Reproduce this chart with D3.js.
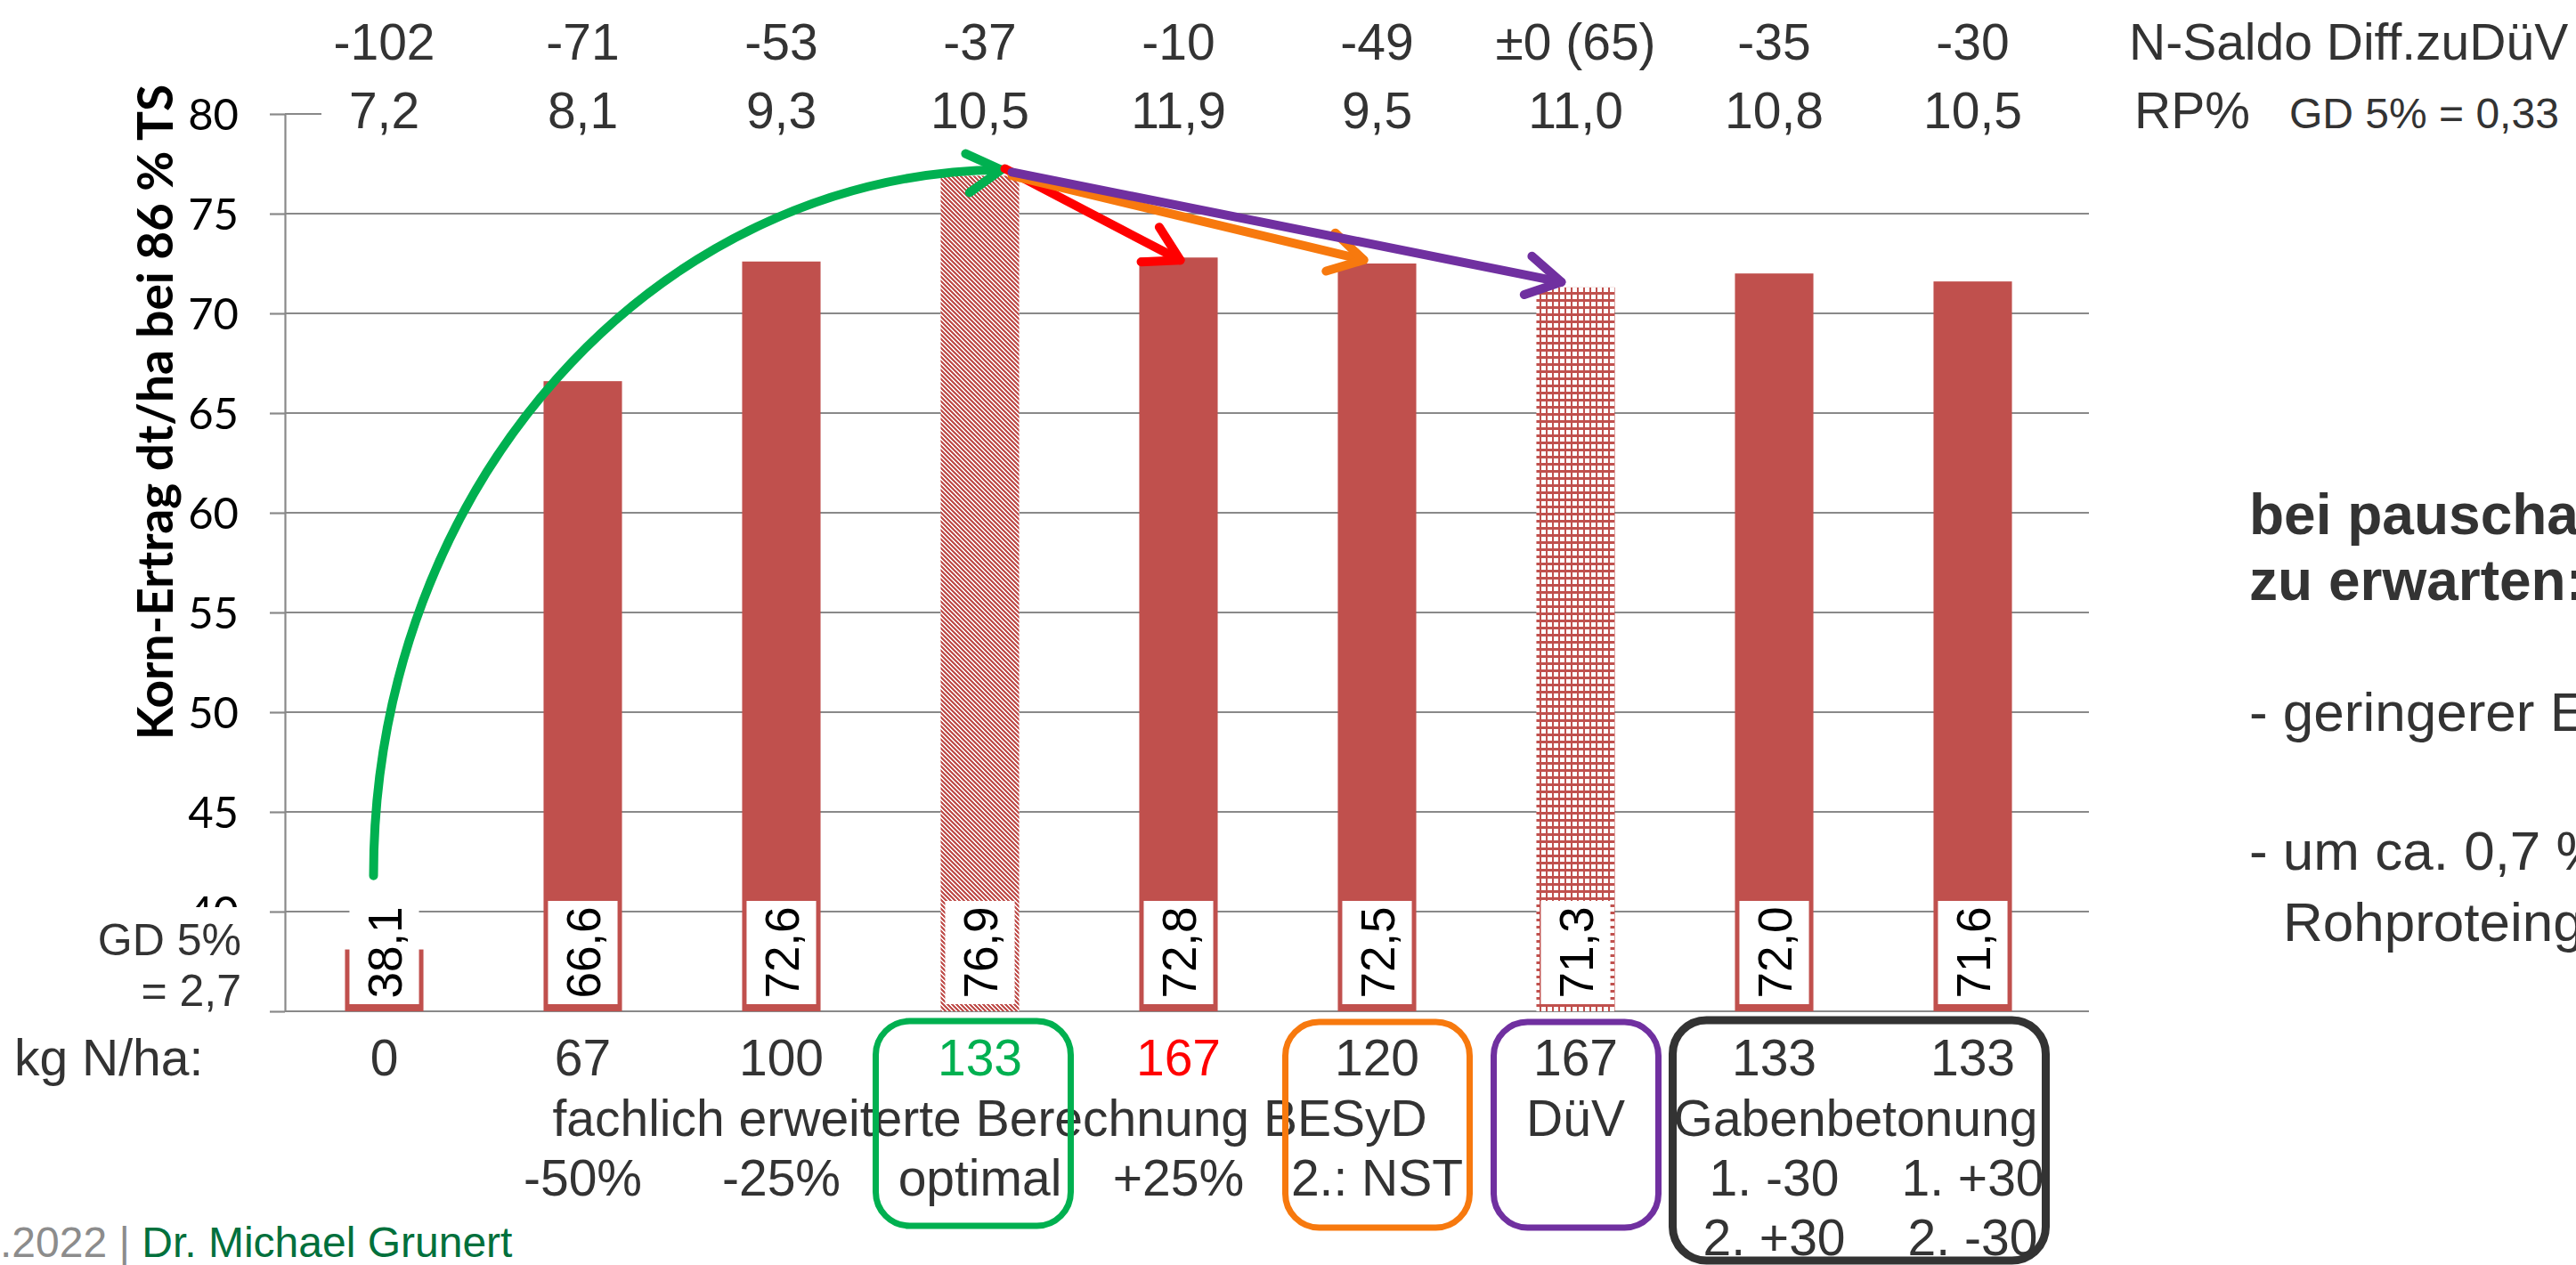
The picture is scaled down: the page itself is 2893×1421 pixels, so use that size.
<!DOCTYPE html>
<html><head><meta charset="utf-8">
<script src="https://cdn.jsdelivr.net/npm/d3@7"></script>
<style>html,body{margin:0;padding:0;background:#fff;overflow:hidden}</style>
</head><body><svg id="chart"></svg>
<script>
// ---------- data ----------
const categories = ["0","67","100","133","167","120","167","133","133"];   // kg N/ha
const yields = [38.1, 66.6, 72.6, 76.9, 72.8, 72.5, 71.3, 72.0, 71.6];     // Korn-Ertrag dt/ha
const nSaldo = ["-102","-71","-53","-37","-10","-49","±0 (65)","-35","-30"];
const rpPercent = ["7,2","8,1","9,3","10,5","11,9","9,5","11,0","10,8","10,5"];
const variantLine1 = ["","-50%","-25%","optimal","+25%","2.: NST","","1. -30","1. +30"];
const variantLine2 = ["","","","","","","","2. +30","2. -30"];
const yTickValues = [35,40,45,50,55,60,65,70,75,80];

// ---------- setup ----------
const W = 2893, H = 1421;
const RED = "#c0504d", GRIDC = "#898989", TXT = "#333333";
const ARIAL = "'Liberation Sans', Arial, sans-serif";
const CAL = "Lato, 'Open Sans', sans-serif";
const svg = d3.select("#chart").attr("width", W).attr("height", H)
  .style("background", "#fff");

const x = d3.scaleBand().domain(d3.range(categories.length))
  .range([320, 2327]).paddingInner(0.605).paddingOuter(0.3025);
const y = d3.scaleLinear().domain([35, 80]).range([1136, 128]);
const cx = i => x(i) + x.bandwidth() / 2;

const defs = svg.append("defs");
// diagonal hatch (crisp pixel staircase)
const hatch = defs.append("pattern").attr("id", "hatch").attr("patternUnits", "userSpaceOnUse")
  .attr("width", 5).attr("height", 5);
hatch.append("rect").attr("width", 5).attr("height", 5).attr("fill", "#fff");
for (let r = 0; r < 5; r++) for (let k = 0; k < 3; k++)
  hatch.append("rect").attr("x", (r + k) % 5).attr("y", r).attr("width", 1).attr("height", 1)
    .attr("fill", RED).attr("shape-rendering", "crispEdges");
// small grid
const grid = defs.append("pattern").attr("id", "grid").attr("patternUnits", "userSpaceOnUse")
  .attr("width", 7).attr("height", 8);
grid.append("rect").attr("width", 7).attr("height", 8).attr("fill", "#fff");
grid.append("rect").attr("x", 0).attr("y", 0).attr("width", 2).attr("height", 8).attr("fill", RED).attr("shape-rendering", "crispEdges");
grid.append("rect").attr("x", 0).attr("y", 0).attr("width", 7).attr("height", 3).attr("fill", RED).attr("shape-rendering", "crispEdges");
const fillFor = i => i === 3 ? "url(#hatch)" : i === 6 ? "url(#grid)" : RED;

// ---------- gridlines + axis ----------
svg.append("g").selectAll("line").data(yTickValues).join("line")
  .attr("x1", 320).attr("x2", 2346)
  .attr("y1", d => y(d)).attr("y2", d => y(d))
  .attr("stroke", GRIDC).attr("stroke-width", 2.2);

const yAxis = d3.axisLeft(y).tickValues(yTickValues).tickSize(17).tickSizeOuter(0)
  .tickPadding(35).tickFormat(d => d === 35 ? "" : d);
const ag = svg.append("g").attr("transform", "translate(320,0)").call(yAxis);
ag.select(".domain").attr("stroke", GRIDC).attr("stroke-width", 2.2);
ag.selectAll(".tick line").attr("stroke", GRIDC).attr("stroke-width", 2.2);
ag.selectAll(".tick text").attr("font-family", CAL).attr("font-size", 49)
  .attr("fill", "#000").attr("dy", "0.36em");

// white text box behind the RP% row covers the 80 gridline
svg.append("rect").attr("x", 361).attr("y", 112).attr("width", 2000).attr("height", 32).attr("fill", "#fff");

// y title
svg.append("text").attr("transform", "translate(194,463) rotate(-90)")
  .attr("text-anchor", "middle").attr("font-family", CAL).attr("font-weight", 700)
  .attr("font-size", 55).attr("fill", "#000").text("Korn-Ertrag dt/ha bei 86 % TS");

// ---------- bars ----------
svg.append("g").selectAll("rect").data(yields).join("rect")
  .attr("x", (d, i) => x(i)).attr("width", x.bandwidth())
  .attr("y", d => y(d)).attr("height", d => y(35) - y(d))
  .attr("fill", (d, i) => fillFor(i));

// value label boxes
const lab = svg.append("g").selectAll("g").data(yields).join("g");
lab.append("rect").attr("x", (d, i) => x(i) + 5).attr("width", x.bandwidth() - 10)
  .attr("y", y(35) - 124).attr("height", 116).attr("fill", "#fff");
lab.append("text")
  .attr("transform", (d, i) => `translate(${cx(i)},${y(35) - 66}) rotate(-90)`)
  .attr("text-anchor", "middle").attr("dy", "0.36em")
  .attr("font-family", ARIAL).attr("font-size", 53).attr("fill", "#000")
  .text(d => d.toFixed(1).replace(".", ","));

// GD 5% box (covers lower part of the 40 label)
svg.append("rect").attr("x", 80).attr("y", 1019).attr("width", 220).attr("height", 120).attr("fill", "#fff");
svg.append("text").attr("x", 271).attr("y", 1073).attr("text-anchor", "end")
  .attr("font-family", ARIAL).attr("font-size", 50).attr("fill", TXT).text("GD 5%");
svg.append("text").attr("x", 271).attr("y", 1130).attr("text-anchor", "end")
  .attr("font-family", ARIAL).attr("font-size", 50).attr("fill", TXT).text("= 2,7");

// ---------- top rows ----------
const topT = (arr, yy) => svg.append("g").selectAll("text").data(arr).join("text")
  .attr("x", (d, i) => cx(i)).attr("y", yy).attr("text-anchor", "middle")
  .attr("font-family", ARIAL).attr("font-size", 57).attr("fill", TXT).text(d => d);
topT(nSaldo, 67);
topT(rpPercent, 144);
svg.append("text").attr("x", 2391).attr("y", 67).attr("font-family", ARIAL).attr("font-size", 57)
  .attr("fill", TXT).text("N-Saldo Diff.zuDüV");
svg.append("text").attr("x", 2397).attr("y", 144).attr("font-family", ARIAL).attr("font-size", 57)
  .attr("fill", TXT).text("RP%");
svg.append("text").attr("x", 2571).attr("y", 144).attr("font-family", ARIAL).attr("font-size", 48)
  .attr("fill", TXT).text("GD 5% = 0,33");

// ---------- bottom rows ----------
const FS = 57;
svg.append("text").attr("x", 16).attr("y", 1208).attr("font-family", ARIAL).attr("font-size", FS)
  .attr("fill", TXT).text("kg N/ha:");
svg.append("g").selectAll("text").data(categories).join("text")
  .attr("x", (d, i) => cx(i)).attr("y", 1208).attr("text-anchor", "middle")
  .attr("font-family", ARIAL).attr("font-size", FS)
  .attr("fill", (d, i) => i === 3 ? "#00b050" : i === 4 ? "#ff0000" : TXT).text(d => d);
svg.append("text").attr("x", x(1) + 10).attr("y", 1276).attr("font-family", ARIAL).attr("font-size", FS)
  .attr("fill", TXT).text("fachlich erweiterte Berechnung BESyD");
svg.append("text").attr("x", cx(6)).attr("y", 1276).attr("text-anchor", "middle").attr("font-family", ARIAL)
  .attr("font-size", FS).attr("fill", TXT).text("DüV");
svg.append("text").attr("x", (cx(7) + cx(8)) / 2 - 20).attr("y", 1276).attr("text-anchor", "middle")
  .attr("font-family", ARIAL).attr("font-size", FS).attr("fill", TXT).text("Gabenbetonung");
[[variantLine1, 1343], [variantLine2, 1410]].forEach(([arr, yy]) => {
  svg.append("g").selectAll("text").data(arr).join("text")
    .attr("x", (d, i) => cx(i)).attr("y", yy).attr("text-anchor", "middle")
    .attr("font-family", ARIAL).attr("font-size", FS).attr("fill", TXT).text(d => d);
});

// ---------- rounded group boxes ----------
const boxes = [
  {x0: cx(3) - 117, x1: cx(3) + 102, y0: 1147, y1: 1377, c: "#00b050", w: 7},
  {x0: cx(5) - 103, x1: cx(5) + 104, y0: 1148, y1: 1379, c: "#f7790e", w: 7},
  {x0: cx(6) - 92,  x1: cx(6) + 93,  y0: 1148, y1: 1379, c: "#7030a0", w: 7},
  {x0: cx(7) - 114, x1: cx(8) + 82,  y0: 1146, y1: 1416, c: "#333333", w: 9}
];
svg.append("g").selectAll("rect").data(boxes).join("rect")
  .attr("x", d => d.x0).attr("y", d => d.y0).attr("width", d => d.x1 - d.x0).attr("height", d => d.y1 - d.y0)
  .attr("rx", 38).attr("ry", 38).attr("fill", "none").attr("stroke", d => d.c).attr("stroke-width", d => d.w);

// ---------- arrows ----------
const arrowG = svg.append("g").attr("fill", "none").attr("stroke-linecap", "round").attr("stroke-linejoin", "round");
function head(tx, ty, ang, col, w) {
  const L = 44, a = 30 * Math.PI / 180;
  const p1 = [tx - L * Math.cos(ang - a), ty - L * Math.sin(ang - a)];
  const p2 = [tx - L * Math.cos(ang + a), ty - L * Math.sin(ang + a)];
  arrowG.append("path").attr("d", `M${p1[0]},${p1[1]} L${tx},${ty} L${p2[0]},${p2[1]}`)
    .attr("stroke", col).attr("stroke-width", w);
}
// green: from control (0) up to optimum (133)
{
  const sx = cx(0) - 12, sy = y(41.8), ex = cx(3) + 24, ey = y(77.2);
  const rx = ex - sx, ry = sy - ey, k = 0.5523;
  arrowG.append("path")
    .attr("d", `M${sx},${sy} C${sx},${sy - k * ry} ${ex - k * rx},${ey + 4} ${ex},${ey}`)
    .attr("stroke", "#00b050").attr("stroke-width", 10);
  head(ex, ey, -0.1, "#00b050", 10);
}
const straight = [
  {s: [x(3) + x.bandwidth() - 16, y(76.9) - 8], e: [cx(4) + 2, y(72.8) + 3], c: "#ff0000"},
  {s: [x(3) + x.bandwidth() - 8, y(76.9)], e: [cx(5) - 15, y(72.5) - 4], c: "#f7790e"},
  {s: [x(3) + x.bandwidth() - 8, y(76.9) - 4], e: [x(6) + 28, y(71.3) - 6], c: "#7030a0"}
];
straight.forEach(a => {
  arrowG.append("path").attr("d", `M${a.s[0]},${a.s[1]} L${a.e[0]},${a.e[1]}`)
    .attr("stroke", a.c).attr("stroke-width", 10);
  head(a.e[0], a.e[1], Math.atan2(a.e[1] - a.s[1], a.e[0] - a.s[0]), a.c, 10);
});

// ---------- right text ----------
svg.append("text").attr("x", 2526).attr("y", 600).attr("font-family", ARIAL).attr("font-weight", 700)
  .attr("font-size", 64).attr("fill", TXT).text("bei pauscha");
svg.append("text").attr("x", 2526).attr("y", 674).attr("font-family", ARIAL).attr("font-weight", 700)
  .attr("font-size", 64).attr("fill", TXT).text("zu erwarten:");
svg.append("text").attr("x", 2526).attr("y", 821).attr("font-family", ARIAL)
  .attr("font-size", 62).attr("fill", TXT).text("- geringerer E");
svg.append("text").attr("x", 2526).attr("y", 977).attr("font-family", ARIAL)
  .attr("font-size", 62).attr("fill", TXT).text("- um ca. 0,7 %");
svg.append("text").attr("x", 2564).attr("y", 1057).attr("font-family", ARIAL)
  .attr("font-size", 62).attr("fill", TXT).text("Rohproteing");

// ---------- footer ----------
const ft = svg.append("text").attr("x", 0).attr("y", 1412).attr("font-family", ARIAL).attr("font-size", 48);
ft.append("tspan").attr("fill", "#8c8c8c").text(".2022 | ");
ft.append("tspan").attr("fill", "#00703c").text("Dr. Michael Grunert");
</script></body></html>
